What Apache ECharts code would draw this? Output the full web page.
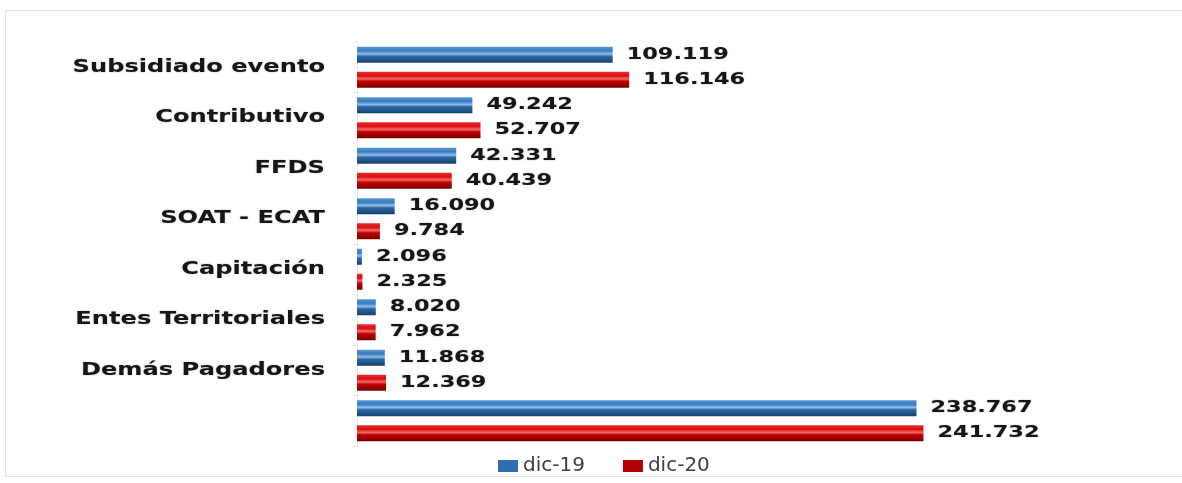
<!DOCTYPE html>
<html><head><meta charset="utf-8">
<script src="https://cdn.jsdelivr.net/npm/echarts@6/dist/echarts.min.js"></script>
<style>
html,body{margin:0;padding:0;background:#fff;}
#frame{position:absolute;left:5px;top:10px;width:1180px;height:467px;border:1px solid #e4e4e4;box-sizing:border-box;}
#chart{position:absolute;left:0;top:0;width:1182px;height:483px;}
</style></head>
<body>
<div id="frame"></div>
<div id="chart"></div>
<script>
const categories = ['Subsidiado evento','Contributivo','FFDS','SOAT - ECAT','Capitación','Entes Territoriales','Demás Pagadores',''];
const seriesNames = ['dic-19','dic-20'];
const dic19 = [109119, 49242, 42331, 16090, 2096, 8020, 11868, 238767];
const dic20 = [116146, 52707, 40439, 9784, 2325, 7962, 12369, 241732];

function fmt(v){ return String(v).replace(/\B(?=(\d{3})+(?!\d))/g, '.'); }

const blueGrad = new echarts.graphic.LinearGradient(0,0,0,1,[
  {offset:0,color:'#5a98d4'},{offset:0.25,color:'#347bbf'},{offset:0.45,color:'#8fbce8'},
  {offset:0.6,color:'#2a67a4'},{offset:1,color:'#18416f'}]);
const redGrad = new echarts.graphic.LinearGradient(0,0,0,1,[
  {offset:0,color:'#e83030'},{offset:0.25,color:'#dc0c0c'},{offset:0.45,color:'#f06a6a'},
  {offset:0.6,color:'#c40000'},{offset:1,color:'#740000'}]);

const textFx = {fill:'#161616', textShadowBlur:1.5, textShadowColor:'rgba(0,0,0,0.35)'};
function valueLabels(values, side){
  return {type:'custom', name:'_lbl'+side, silent:true, clip:false, z:5,
    data: values.map((v,i)=>[v,i]), encode:{x:0,y:1},
    renderItem:(params, api)=>{
      const v = api.value(0), i = api.value(1);
      const p = api.coord([v, i]);
      const band = api.size([0,1])[1];
      return {type:'text', x:p[0]+14, y:p[1]+side*band*0.247, scaleX:1.4,
        style:Object.assign({text:fmt(v), font:'bold 16px "DejaVu Sans"', align:'left', verticalAlign:'middle'}, textFx)};
    }};
}
const catLabels = {type:'custom', name:'_cat', silent:true, clip:false, z:5,
  data: categories.map((c,i)=>[0,i]), encode:{x:0,y:1},
  renderItem:(params, api)=>{
    const i = api.value(1);
    const p = api.coord([0, i]);
    return {type:'text', x:p[0]-32, y:p[1], scaleX:1.42,
      style:Object.assign({text:categories[i], font:'bold 17px "DejaVu Sans"', align:'right', verticalAlign:'middle'}, textFx)};
  }};

const chart = echarts.init(document.getElementById('chart'));
chart.setOption({
  animation:false,
  grid:{left:357, right:122, top:42, bottom:37, containLabel:false},
  legend:{top:451, left:493, itemWidth:20, itemHeight:12, itemGap:38,
    textStyle:{fontFamily:'DejaVu Sans', fontSize:20, color:'#404040', padding:[0,0,0,0]},
    data:[{name:'dic-19', icon:'rect', itemStyle:{color:'#2e6fb0'}},{name:'dic-20', icon:'rect', itemStyle:{color:'#b00000'}}]},
  xAxis:{type:'value', min:0, max:300000, show:false},
  yAxis:{type:'category', inverse:true, data:categories,
    axisLine:{show:true, lineStyle:{color:'#e8e8e8'}},
    axisTick:{show:true, length:4, lineStyle:{color:'#e8e8e8'}},
    axisLabel:{show:false}},
  series:[
    {name:seriesNames[0], type:'bar', data:dic19, barWidth:16, barGap:'56%', barCategoryGap:'19%',
      itemStyle:{color:blueGrad}},
    {name:seriesNames[1], type:'bar', data:dic20, barWidth:16, barGap:'56%', barCategoryGap:'19%',
      itemStyle:{color:redGrad}},
    valueLabels(dic19, -1),
    valueLabels(dic20, 1),
    catLabels
  ]
});
</script>
</body></html>
